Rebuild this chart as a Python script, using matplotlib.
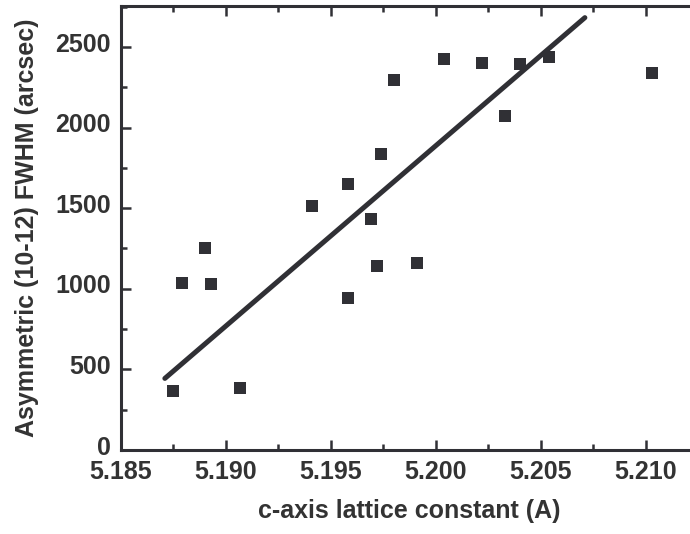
import matplotlib
matplotlib.use('Agg')
import matplotlib.pyplot as plt
from matplotlib.ticker import MultipleLocator
from matplotlib.transforms import ScaledTranslation

plt.rcParams['font.family'] = ['Liberation Sans', 'DejaVu Sans']
plt.rcParams['font.weight'] = 'bold'

# lattice constant c (A) and asymmetric (10-12) FWHM (arcsec)
c_axis = [5.1875, 5.1879, 5.1890, 5.1893, 5.1907, 5.1941, 5.1958, 5.1958,
          5.1969, 5.1972, 5.1974, 5.1980, 5.1991, 5.2004, 5.2022, 5.2033,
          5.2040, 5.2054, 5.2103]
fwhm = [366, 1037, 1252, 1029, 384, 1514, 1647, 944,
        1434, 1141, 1835, 2294, 1159, 2428, 2399, 2070,
        2393, 2438, 2339]

# linear fit end points
fit_x = [5.1871, 5.2071]
fit_y = [444, 2682]

dark = '#303035'
txt = '#333333'

fig = plt.figure(figsize=(6.9, 5.34), dpi=100)
ax = fig.add_axes([0.175, 0.1573, 0.837, 0.832])

ax.plot(fit_x, fit_y, color=dark, lw=3.6, solid_capstyle='round', zorder=2)
ax.plot(c_axis, fwhm, 's', color=dark, ms=9, mec=dark, mew=0, zorder=3)

ax.set_xlim(5.185, 5.2125)
ax.set_ylim(0, 2756)
ax.xaxis.set_major_locator(MultipleLocator(0.005))
ax.xaxis.set_minor_locator(MultipleLocator(0.0025))
ax.yaxis.set_major_locator(MultipleLocator(500))
ax.yaxis.set_minor_locator(MultipleLocator(250))
ax.xaxis.set_major_formatter(plt.FormatStrFormatter('%.3f'))

for s in ax.spines.values():
    s.set_linewidth(2.2)
    s.set_color(dark)

ax.tick_params(which='both', direction='in', colors=dark, labelcolor=txt,
               labelsize=18, top=True, right=False)
ax.tick_params(which='major', length=7, width=1.8)
ax.tick_params(which='minor', length=4.5, width=1.8)
ax.tick_params(axis='x', which='major', pad=7)
ax.tick_params(axis='y', which='major', pad=7)

# y tick labels sit a little above their ticks in the original
for lab in ax.get_yticklabels():
    lab.set_transform(lab.get_transform() + ScaledTranslation(0, 3.5 / 72, fig.dpi_scale_trans))

ax.set_xlabel('c-axis lattice constant (A)', fontsize=18, fontweight='bold',
              color=txt, labelpad=11)
ax.set_ylabel('Asymmetric (10-12) FWHM (arcsec)', fontsize=18, fontweight='bold',
              color=txt, labelpad=12)

fig.savefig('out.png', dpi=100, facecolor='white')
